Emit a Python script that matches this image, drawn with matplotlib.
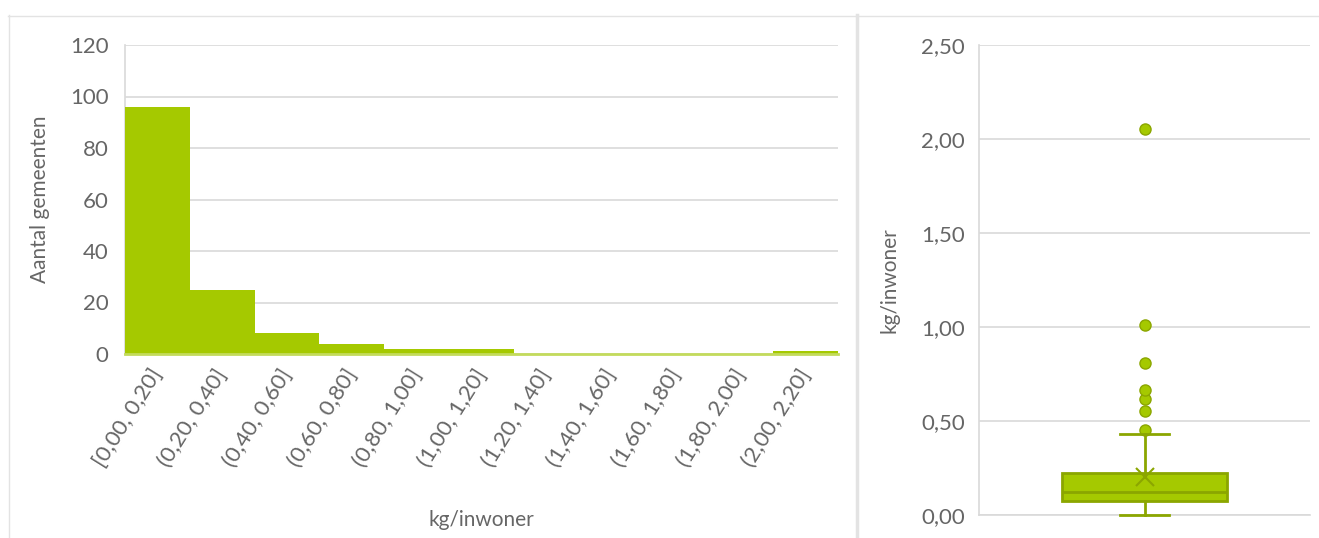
import matplotlib.pyplot as plt
from matplotlib.lines import Line2D

plt.rcParams['font.family'] = ['Lato', 'DejaVu Sans']

# histogram data
bins = ["[0,00, 0,20]", "(0,20, 0,40]", "(0,40, 0,60]", "(0,60, 0,80]",
        "(0,80, 1,00]", "(1,00, 1,20]", "(1,20, 1,40]", "(1,40, 1,60]",
        "(1,60, 1,80]", "(1,80, 2,00]", "(2,00, 2,20]"]
counts = [96, 25, 8, 4, 2, 2, 0, 0, 0, 0, 1]
hist_yticks = [0, 20, 40, 60, 80, 100, 120]

# box plot summary (kg/inwoner)
box_q1 = 0.073
box_median = 0.122
box_q3 = 0.222
box_mean = 0.20
whisker_low = 0.0
whisker_high = 0.43
outliers = [0.453, 0.553, 0.618, 0.667, 0.809, 1.013, 2.055]
box_yticks = [0.0, 0.5, 1.0, 1.5, 2.0, 2.5]

green = "#a5c900"
dark_green = "#8ba600"
grid_c = "#d9d9d9"
text_c = "#666666"

W, H = 1319, 538
fig = plt.figure(figsize=(W / 100, H / 100), dpi=100)

def px_axes(left, top, right, bottom):
    return fig.add_axes([left / W, 1 - bottom / H, (right - left) / W, (bottom - top) / H])

# --- histogram ---
ax = px_axes(125, 45, 838, 354)
x = range(len(bins))
ax.bar(x, counts, width=1.0, color=green, edgecolor="none", zorder=3)
ax.set_xlim(-0.5, len(bins) - 0.5)
ax.set_ylim(0, 120)
ax.set_yticks(hist_yticks)
ax.grid(axis="y", color=grid_c, lw=1.2, zorder=0)
ax.set_xticks(list(x))
ax.set_xticklabels(bins, rotation=58, ha="right", va="center", rotation_mode="anchor")
ax.tick_params(axis="x", length=0, pad=12, labelsize=16, labelcolor=text_c)
ax.tick_params(axis="y", length=0, pad=12, labelsize=16, labelcolor=text_c)
for s in ["top", "right"]:
    ax.spines[s].set_visible(False)
ax.spines["left"].set_color(grid_c)
ax.spines["left"].set_linewidth(1.2)
ax.spines["bottom"].set_color("#c3db5c")
ax.spines["bottom"].set_linewidth(2)
ax.spines["bottom"].set_zorder(4)
ax.set_ylabel("Aantal gemeenten", fontsize=15, color=text_c, labelpad=14)
ax.set_xlabel("kg/inwoner", fontsize=15, color=text_c, labelpad=28)

# --- box plot ---
bx = px_axes(979, 45, 1310, 515)
stats = [dict(med=box_median, q1=box_q1, q3=box_q3, whislo=whisker_low,
              whishi=whisker_high, mean=box_mean, fliers=outliers)]
arts = bx.bxp(stats, positions=[0], widths=0.5, showmeans=True, patch_artist=True,
              boxprops=dict(facecolor=green, edgecolor=dark_green, lw=2),
              medianprops=dict(color=dark_green, lw=2),
              whiskerprops=dict(color=dark_green, lw=2),
              capprops=dict(color=dark_green, lw=2),
              capwidths=0.15,
              meanprops=dict(marker="x", markersize=13, markeredgecolor=dark_green, markeredgewidth=1.5),
              flierprops=dict(marker="o", markersize=8, markerfacecolor=green,
                              markeredgecolor=dark_green, markeredgewidth=1))
for key in ["caps", "whiskers"]:
    for a in arts[key]:
        a.set_clip_on(False)
        a.set_zorder(5)
bx.set_xlim(-0.5, 0.5)
bx.set_ylim(0, 2.5)
bx.set_yticks(box_yticks)
bx.set_yticklabels([f"{v:.2f}".replace(".", ",") for v in box_yticks])
bx.set_xticks([])
bx.grid(axis="y", color=grid_c, lw=1.2, zorder=0)
bx.set_axisbelow(True)
bx.tick_params(axis="y", length=0, pad=10, labelsize=16, labelcolor=text_c)
for s in ["top", "right"]:
    bx.spines[s].set_visible(False)
bx.spines["left"].set_color(grid_c)
bx.spines["left"].set_linewidth(1.2)
bx.spines["bottom"].set_color(grid_c)
bx.spines["bottom"].set_linewidth(1.2)
bx.set_ylabel("kg/inwoner", fontsize=15, color=text_c, labelpad=16)

# panel borders
def fline(x0, y0, x1, y1, lw=1.0, c="#e3e3e3"):
    fig.add_artist(Line2D([x0 / W, x1 / W], [1 - y0 / H, 1 - y1 / H], color=c, lw=lw))

fline(8.5, 15, 8.5, H)
fline(8, 15.5, 856, 15.5)
fline(856.5, 15, 856.5, H, lw=2.5)
fline(858, 15.5, W, 15.5)

fig.savefig("out.png", dpi=100)
